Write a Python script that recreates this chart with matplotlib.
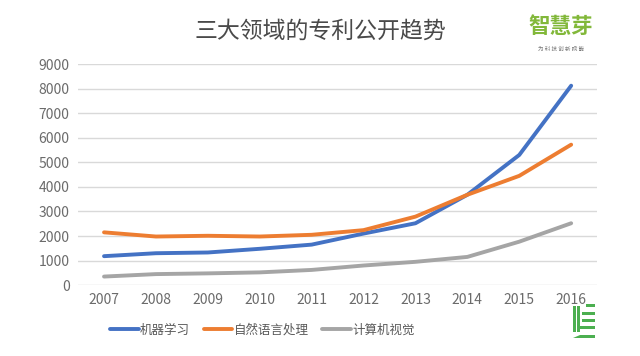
import matplotlib
matplotlib.use('Agg')
import matplotlib.pyplot as plt
from matplotlib.patches import Rectangle, Polygon

plt.rcParams['font.family'] = ['Noto Sans CJK SC', 'DejaVu Sans']

# data
years = ['2007', '2008', '2009', '2010', '2011', '2012', '2013', '2014', '2015', '2016']
machine_learning = [1180, 1300, 1330, 1480, 1650, 2100, 2520, 3680, 5300, 8120]
nlp = [2150, 1980, 2010, 1980, 2050, 2240, 2790, 3680, 4450, 5720]
vision = [350, 450, 480, 520, 620, 800, 950, 1150, 1770, 2520]
series_names = ['机器学习', '自然语言处理', '计算机视觉']
colors = ['#4472C4', '#ED7D31', '#A5A5A5']

fig = plt.figure(figsize=(6.4, 3.56), dpi=100)
ax = fig.add_axes([0.122, 0.199, 0.811, 0.621])

x = range(len(years))
for vals, name, c in zip([machine_learning, nlp, vision], series_names, colors):
    ax.plot(x, vals, color=c, lw=2.8, label=name, solid_capstyle='round')

ax.set_xlim(-0.5, len(years) - 0.5)
ax.set_ylim(0, 9000)
ax.set_yticks(range(0, 9001, 1000))
ax.set_xticks(list(x))
ax.set_xticklabels(years)
ax.tick_params(length=0, labelsize=10, labelcolor='#6b6b6b', pad=6)
ax.grid(axis='y', color='#d9d9d9', lw=1)
ax.set_axisbelow(True)
for s in ax.spines.values():
    s.set_visible(False)

fig.text(0.5, 0.912, '三大领域的专利公开趋势', ha='center', va='center',
         fontsize=16.5, color='#4a4a4a')

# logo top right
fig.text(0.876, 0.925, '智慧芽', ha='center', va='center', fontsize=15.5,
         color='#82b83a', fontweight='bold')
fig.text(0.876, 0.86, '为 科 技 创 新 赋 能', ha='center', va='center', fontsize=4,
         color='#777777')

leg = fig.legend(loc='center', bbox_to_anchor=(0.41, 0.072), ncol=3, frameon=False,
                 fontsize=9, handlelength=2.3, handletextpad=0.1, columnspacing=1.1)
for t in leg.get_texts():
    t.set_color('#595959')

# icon bottom right
g = '#4caf50'
for rx, rw in [(573, 2.5), (577, 2.5)]:
    fig.add_artist(Rectangle((rx / 640, 1 - 332 / 356), rw / 640, 26 / 356,
                             transform=fig.transFigure, color=g, lw=0))
for ry, rx0, rw in [(307, 586, 9), (315, 582, 13), (322, 582, 13), (329, 580, 15)]:
    fig.add_artist(Rectangle((rx0 / 640, 1 - ry / 356), rw / 640, 3 / 356,
                             transform=fig.transFigure, color=g, lw=0))
fig.add_artist(Polygon([(573 / 640, 1 - 338 / 356), (595 / 640, 1 - 338 / 356),
                        (595 / 640, 1 - 335 / 356), (580 / 640, 1 - 335 / 356)],
                       closed=True, transform=fig.transFigure, color=g, lw=0))

fig.savefig('out.png', dpi=100, facecolor='white')
